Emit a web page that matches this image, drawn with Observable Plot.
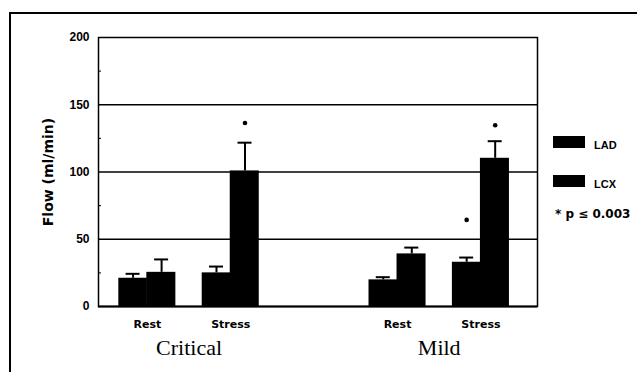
<!DOCTYPE html>
<html><head><meta charset="utf-8">
<script src="https://cdn.jsdelivr.net/npm/d3@7"></script>
<script src="https://cdn.jsdelivr.net/npm/@observablehq/plot@0.6"></script>
<style>
body{margin:0;background:#fff;width:637px;height:372px;overflow:hidden;position:relative}
#chart{position:absolute;left:0;top:0}
#border{position:absolute;left:9px;top:12px;width:700px;height:400px;border-left:2px solid #000;border-top:2px solid #000;pointer-events:none}
.lg{position:absolute;font-weight:bold;color:#000;white-space:nowrap;line-height:1}
.sw{position:absolute;background:#000;width:32px;height:12px}
</style></head><body>
<div id="chart"></div>
<div id="legend"></div>
<div id="border"></div>
<script>
// ---- data ----
const groups = ["Critical", "Critical", "Mild", "Mild"];
const conditions = ["Rest", "Stress", "Rest", "Stress"];
const seriesNames = ["LAD", "LCX"];
const ladMean = [21.0, 25.0, 19.8, 32.9];
const ladSem = [3.3, 4.7, 2.0, 3.5];
const lcxMean = [25.4, 100.8, 39.1, 110.2];
const lcxSem = [9.6, 21.0, 4.7, 12.7];
const sigSlot = ["Critical Stress", "Mild Stress", "Mild Stress"];
const sigSeries = ["LCX", "LAD", "LCX"];
const sigY = [136.4, 64.4, 134.8];
const xDomain = ["Critical Rest", "Critical Stress", "gap", "Mild Rest", "Mild Stress"];
const groupLabels = ["Critical", "Mild"];
const yTicks = [0, 50, 100, 150, 200];
const gridLines = [50, 100, 150];
const minorTicks = [25, 75, 125, 175];
const sigNote = "* p \u2264 0.003";

// ---- tables ----
const lad = groups.map((g, i) => ({slot: g + " " + conditions[i], mean: ladMean[i], sem: ladSem[i]}));
const lcx = groups.map((g, i) => ({slot: g + " " + conditions[i], mean: lcxMean[i], sem: lcxSem[i]}));
const sig = sigSlot.map((s, i) => ({slot: s, series: sigSeries[i], y: sigY[i]}));

// ---- layout ----
const W = 637, H = 372, mL = 98, mR = 100, mT = 37, mB = 66;
const pInner = 0.316, pOuter = 0.29, align = 0.42;
const innerW = W - mL - mR;
const step = innerW / (xDomain.length - pInner + 2 * pOuter);
const bw = step * (1 - pInner);
const half = bw / 2;
const capHalf = 7;

const plot = Plot.plot({
  width: W, height: H,
  marginLeft: mL, marginRight: mR, marginTop: mT, marginBottom: mB,
  style: {fontFamily: "'DejaVu Sans', sans-serif", fontWeight: "bold", fontSize: "11px", color: "#000", background: "transparent"},
  x: {type: "band", domain: xDomain, paddingInner: pInner, paddingOuter: pOuter, align, round: false,
      tickSize: 0, tickPadding: 14, label: null,
      tickFormat: d => d === "gap" ? "" : d.split(" ")[1]},
  y: {domain: [0, 200], ticks: yTicks, tickSize: 0, tickPadding: 9, label: null},
  marks: [
    Plot.ruleY(minorTicks, {stroke: "#000", strokeWidth: 1, insetRight: innerW - 3}),
    Plot.ruleY(gridLines, {stroke: "#000", strokeWidth: 1.5}),
    Plot.barY(lad, {x: "slot", y: "mean", fill: "#000", insetRight: half}),
    Plot.barY(lcx, {x: "slot", y: "mean", fill: "#000", insetLeft: half - 0.5}),
    Plot.ruleX(lad, {x: "slot", y1: "mean", y2: d => d.mean + d.sem, dx: -half / 2, stroke: "#000", strokeWidth: 2}),
    Plot.ruleX(lcx, {x: "slot", y1: "mean", y2: d => d.mean + d.sem, dx: half / 2, stroke: "#000", strokeWidth: 2}),
    Plot.tickY(lad, {x: "slot", y: d => d.mean + d.sem, insetLeft: half / 2 - capHalf, insetRight: half * 1.5 - capHalf, stroke: "#000", strokeWidth: 2}),
    Plot.tickY(lcx, {x: "slot", y: d => d.mean + d.sem, insetLeft: half * 1.5 - capHalf, insetRight: half / 2 - capHalf, stroke: "#000", strokeWidth: 2}),
    Plot.dot(sig.filter(d => d.series === "LAD"), {x: "slot", y: "y", dx: -half / 2, r: 2.3, fill: "#000", stroke: "none"}),
    Plot.dot(sig.filter(d => d.series === "LCX"), {x: "slot", y: "y", dx: half / 2, r: 2.3, fill: "#000", stroke: "none"}),
    Plot.frame({stroke: "#000", strokeWidth: 1.5}),
    Plot.ruleY([0], {stroke: "#000", strokeWidth: 2}),
    Plot.text(["Flow (ml/min)"], {frameAnchor: "left", textAnchor: "middle", dx: -50, rotate: -90, fontSize: 14, fontWeight: "bold", fill: "#000"}),
    Plot.text(groupLabels, {x: d => d + " Rest", frameAnchor: "bottom", textAnchor: "middle", dx: step / 2, dy: 48,
      fontFamily: "'Liberation Serif', 'Times New Roman', serif", fontSize: 22, fontWeight: "normal", fill: "#000"})
  ]
});
document.getElementById("chart").appendChild(plot);
// y tick labels font
plot.querySelectorAll("g[aria-label='y-axis tick label'] text, g[aria-label='y-axis'] text").forEach(t => {
  t.style.fontFamily = "'Liberation Sans', Arial, sans-serif"; t.style.fontSize = "12px";
});

// ---- legend (HTML) ----
const legend = document.getElementById("legend");
const swTops = [136, 174.5];
seriesNames.forEach((s, i) => {
  const sw = document.createElement("div");
  sw.className = "sw"; sw.style.left = "553px"; sw.style.top = swTops[i] + "px";
  legend.appendChild(sw);
  const t = document.createElement("div");
  t.className = "lg"; t.textContent = s;
  t.style.left = "594px"; t.style.top = (swTops[i] + 4) + "px";
  t.style.fontFamily = "'Liberation Sans', Arial, sans-serif"; t.style.fontSize = "11px";
  legend.appendChild(t);
});
const note = document.createElement("div");
note.className = "lg"; note.textContent = sigNote;
note.style.left = "555px"; note.style.top = "208px";
note.style.fontFamily = "'DejaVu Sans', sans-serif"; note.style.fontSize = "12px";
legend.appendChild(note);
</script>
</body></html>
